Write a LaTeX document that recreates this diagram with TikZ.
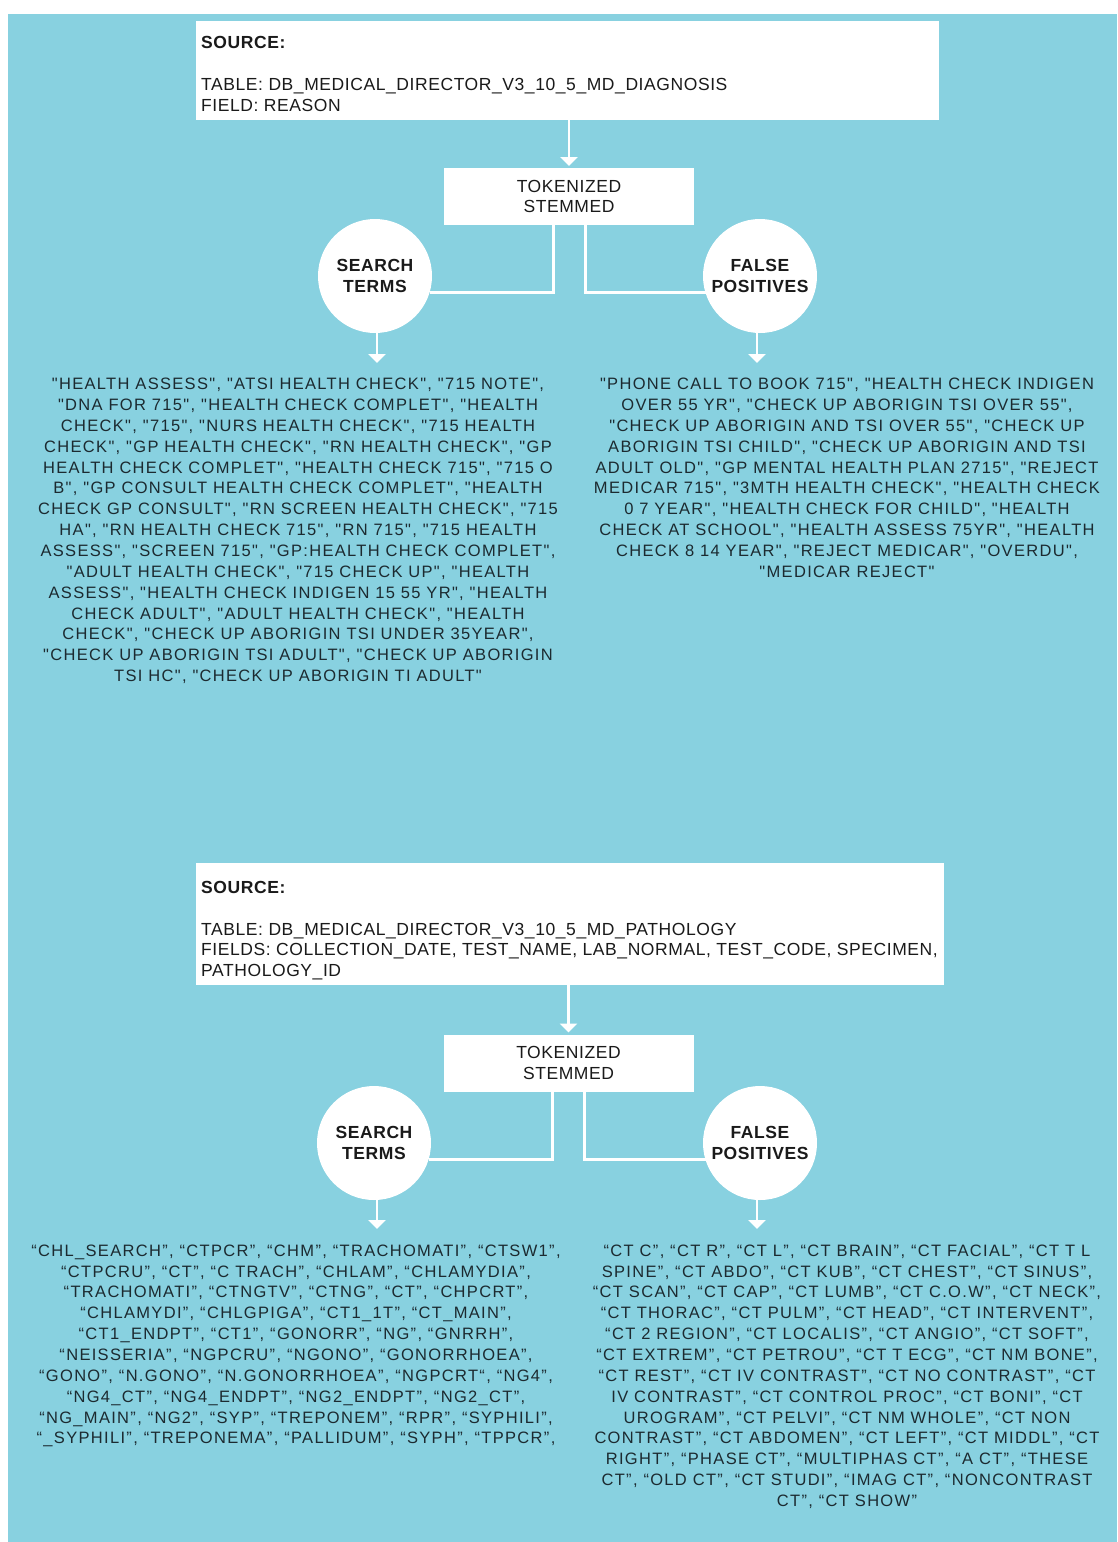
\documentclass[tikz,border=0pt]{standalone}
\usepackage{fontspec}
\setmainfont{Liberation Sans}
\newfontfamily\listfont[LetterSpace=8]{Liberation Sans}
\newfontfamily\boxfont[LetterSpace=3.3]{Liberation Sans}
\usetikzlibrary{arrows.meta,calc}
\definecolor{bgc}{HTML}{88D1E0}
\definecolor{listtxt}{HTML}{1C2A30}
\definecolor{boxtxt}{HTML}{1A1A1A}
\begin{document}
\begin{tikzpicture}[x=1pt,y=-1pt,
  srcbox/.style={draw=none,fill=white,rectangle,inner sep=0pt,outer sep=0pt},
  srctext/.style={inner sep=0pt,align=left,text=boxtxt,font={\boxfont\fontsize{17.5}{20.85}\selectfont}},
  tokbox/.style={fill=white,rectangle,inner sep=0pt,outer sep=0pt,minimum width=250pt,minimum height=57pt,align=center,text=boxtxt,font={\boxfont\fontsize{17.5}{20.85}\selectfont}},
  circ/.style={circle,fill=white,inner sep=0pt,outer sep=0pt,minimum size=114pt,align=center,text=boxtxt,font={\boxfont\bfseries\fontsize{17.5}{20.85}\selectfont}},
  conn/.style={draw=white,line width=3pt},
  arr/.style={draw=white,line width=2.7pt,-{Triangle[width=17pt,length=9pt]},fill=white},
  lst/.style={inner sep=0pt,align=center,text=listtxt,font={\listfont\fontsize{16.5}{20.85}\selectfont}}
]
\useasboundingbox (0,0) rectangle (1117,1542);
\fill[bgc] (8,14) rectangle (1117,1542);

% ---------- top section ----------
\node[srcbox,minimum width=743pt,minimum height=99pt] (src1) at (567.5,70.5) {};
\node[srctext,anchor=north west] (src1t) at ($(src1.north west)+(5,15.5)$)
  {\textbf{SOURCE:}\\ \mbox{}\\ TABLE: DB\_MEDICAL\_DIRECTOR\_V3\_10\_5\_MD\_DIAGNOSIS\\ FIELD: REASON};
\node[tokbox] (tok1) at (569,196.5) {TOKENIZED\\STEMMED};
\node[circ] (st1) at (375,276) {SEARCH\\TERMS};
\node[circ] (fp1) at (760,276) {FALSE\\POSITIVES};

\draw[arr,shorten >=2pt] (src1.south -| tok1.north) -- (tok1.north);
\draw[conn] ($(tok1.south)+(-16,0)$) |- (st1.-17.35);
\draw[conn] ($(tok1.south)+(16,0)$) |- (fp1.197.35);

\node[lst,anchor=north] (lst1) at (298,378) {%
"HEALTH ASSESS", "ATSI HEALTH CHECK", "715 NOTE",\\
"DNA FOR 715", "HEALTH CHECK COMPLET", "HEALTH\\
CHECK", "715", "NURS HEALTH CHECK", "715 HEALTH\\
CHECK", "GP HEALTH CHECK", "RN HEALTH CHECK", "GP\\
HEALTH CHECK COMPLET", "HEALTH CHECK 715", "715 O\\
B", "GP CONSULT HEALTH CHECK COMPLET", "HEALTH\\
CHECK GP CONSULT", "RN SCREEN HEALTH CHECK", "715\\
HA", "RN HEALTH CHECK 715", "RN 715", "715 HEALTH\\
ASSESS", "SCREEN 715", "GP:HEALTH CHECK COMPLET",\\
"ADULT HEALTH CHECK", "715 CHECK UP", "HEALTH\\
ASSESS", "HEALTH CHECK INDIGEN 15 55 YR", "HEALTH\\
CHECK ADULT", "ADULT HEALTH CHECK", "HEALTH\\
CHECK", "CHECK UP ABORIGIN TSI UNDER 35YEAR",\\
"CHECK UP ABORIGIN TSI ADULT", "CHECK UP ABORIGIN\\
TSI HC", "CHECK UP ABORIGIN TI ADULT"};

\node[lst,anchor=north] (lfp1) at (847,378) {%
"PHONE CALL TO BOOK 715", "HEALTH CHECK INDIGEN\\
OVER 55 YR", "CHECK UP ABORIGIN TSI OVER 55",\\
"CHECK UP ABORIGIN AND TSI OVER 55", "CHECK UP\\
ABORIGIN TSI CHILD", "CHECK UP ABORIGIN AND TSI\\
ADULT OLD", "GP MENTAL HEALTH PLAN 2715", "REJECT\\
MEDICAR 715", "3MTH HEALTH CHECK", "HEALTH CHECK\\
0 7 YEAR", "HEALTH CHECK FOR CHILD", "HEALTH\\
CHECK AT SCHOOL", "HEALTH ASSESS 75YR", "HEALTH\\
CHECK 8 14 YEAR", "REJECT MEDICAR", "OVERDU",\\
"MEDICAR REJECT"};

\coordinate (st1e) at ($(st1.south)+(2,30)$);
\coordinate (fp1e) at ($(fp1.south)+(-3,30)$);
\draw[arr] (st1.south -| st1e) -- (st1e);
\draw[arr] (fp1.south -| fp1e) -- (fp1e);

% ---------- bottom section ----------
\node[srcbox,minimum width=748pt,minimum height=122pt] (src2) at (570,924) {};
\node[srctext,anchor=north west] (src2t) at ($(src2.north west)+(5,18)$)
  {\textbf{SOURCE:}\\ \mbox{}\\ TABLE: DB\_MEDICAL\_DIRECTOR\_V3\_10\_5\_MD\_PATHOLOGY\\
   FIELDS: COLLECTION\_DATE, TEST\_NAME, LAB\_NORMAL, TEST\_CODE, SPECIMEN,\\ PATHOLOGY\_ID};
\node[tokbox] (tok2) at (568.5,1063) {TOKENIZED\\STEMMED};
\node[circ] (st2) at (374,1143) {SEARCH\\TERMS};
\node[circ] (fp2) at (760,1143) {FALSE\\POSITIVES};

\draw[arr,shorten >=2pt] (src2.south -| tok2.north) -- (tok2.north);
\draw[conn] ($(tok2.south)+(-16,0)$) |- (st2.-17.35);
\draw[conn] ($(tok2.south)+(16,0)$) |- (fp2.197.35);

\node[lst,anchor=north] (lst2) at (296,1244.5) {%
“CHL\_SEARCH”, “CTPCR”, “CHM”, “TRACHOMATI”, “CTSW1”,\\
“CTPCRU”, “CT”, “C TRACH”, “CHLAM”, “CHLAMYDIA”,\\
“TRACHOMATI”, “CTNGTV”, “CTNG”, “CT”, “CHPCRT”,\\
“CHLAMYDI”, “CHLGPIGA”, “CT1\_1T”, “CT\_MAIN”,\\
“CT1\_ENDPT”, “CT1”, “GONORR”, “NG”, “GNRRH”,\\
“NEISSERIA”, “NGPCRU”, “NGONO”, “GONORRHOEA”,\\
“GONO”, “N.GONO”, “N.GONORRHOEA”, “NGPCRT“, “NG4”,\\
“NG4\_CT”, “NG4\_ENDPT”, “NG2\_ENDPT”, “NG2\_CT”,\\
“NG\_MAIN”, “NG2”, “SYP”, “TREPONEM”, “RPR”, “SYPHILI”,\\
“\_SYPHILI”, “TREPONEMA”, “PALLIDUM”, “SYPH”, “TPPCR”,};

\node[lst,anchor=north] (lfp2) at (847,1244.5) {%
“CT C”, “CT R”, “CT L”, “CT BRAIN”, “CT FACIAL”, “CT T L\\
SPINE”, “CT ABDO”, “CT KUB”, “CT CHEST”, “CT SINUS”,\\
“CT SCAN”, “CT CAP”, “CT LUMB”, “CT C.O.W”, “CT NECK”,\\
“CT THORAC”, “CT PULM”, “CT HEAD”, “CT INTERVENT”,\\
“CT 2 REGION”, “CT LOCALIS”, “CT ANGIO”, “CT SOFT”,\\
“CT EXTREM”, “CT PETROU”, “CT T ECG”, “CT NM BONE”,\\
“CT REST”, “CT IV CONTRAST”, “CT NO CONTRAST”, “CT\\
IV CONTRAST”, “CT CONTROL PROC”, “CT BONI”, “CT\\
UROGRAM”, “CT PELVI”, “CT NM WHOLE”, “CT NON\\
CONTRAST”, “CT ABDOMEN”, “CT LEFT”, “CT MIDDL”, “CT\\
RIGHT”, “PHASE CT”, “MULTIPHAS CT”, “A CT”, “THESE\\
CT”, “OLD CT”, “CT STUDI”, “IMAG CT”, “NONCONTRAST\\
CT”, “CT SHOW”};

\coordinate (st2e) at ($(st2.south)+(3,29)$);
\coordinate (fp2e) at ($(fp2.south)+(-3,29)$);
\draw[arr] (st2.south -| st2e) -- (st2e);
\draw[arr] (fp2.south -| fp2e) -- (fp2e);
\end{tikzpicture}
\end{document}
